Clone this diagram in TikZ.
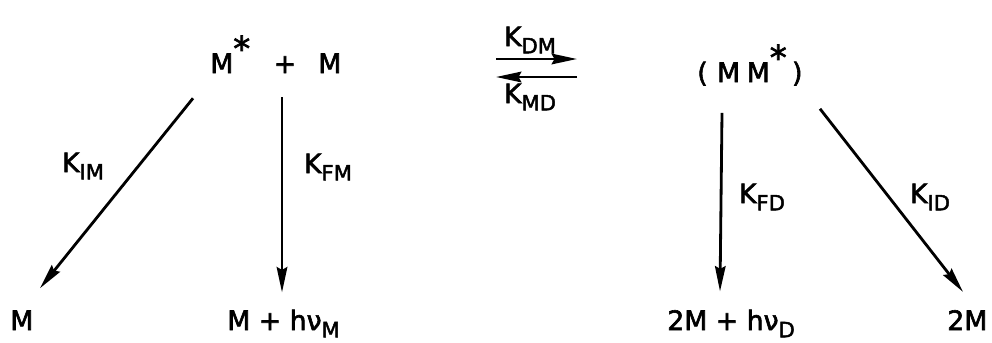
\documentclass[tikz,border=0pt]{standalone}
\usepackage{fontspec}
\setmainfont{DejaVu Sans}[FakeBold=2.2, AutoFakeBold=2.2]
\usepackage{tikz}
\usetikzlibrary{arrows.meta, calc}
\newcommand{\chemsize}{\fontsize{19}{23}\bfseries\selectfont}
\newcommand{\lowsub}[1]{\raisebox{-0.5ex}{\fontsize{15}{18}\selectfont #1}}
\newcommand{\starsup}{\raisebox{0.85ex}{\fontsize{24}{26}\selectfont *}}

\begin{document}
\begin{tikzpicture}[
  x=0.025cm, y=-0.025cm,
  species/.style={inner sep=0pt, font=\chemsize, anchor=base west},
  rate/.style={inner sep=0pt, font=\chemsize},
  arr/.style={-{Stealth[length=18pt, width=7.5pt, inset=2pt]}, line width=2pt}
]
  \useasboundingbox (0,0) rectangle (992,342);

  % excited monomer and ground-state monomer
  \node[species] (mstar) at (210,73) {M\starsup};
  \node[species, anchor=base] (plus1) at (285,73) {+};
  \node[species] (mone) at (318,73) {M};

  % excimer
  \node[species] (dimer) at (697,82) {(\hspace{0.35em}M\hspace{0.25em}M\starsup\hspace{0.2em})};

  % products
  \node[species] (mfree) at (10,330) {M};
  \node[species] (mhv) at (227,330) {M + hν\lowsub{M}};
  \node[species] (dd) at (667,330) {2M + hν\lowsub{D}};
  \node[species] (twom) at (947,330) {2M};

  % rate constants
  \node[rate] (kim) at (83,166) {K\lowsub{IM}};
  \node[rate] (kfm) at (328,167) {K\lowsub{FM}};
  \node[rate] (kdm) at (530,40) {K\lowsub{DM}};
  \node[rate] (kmd) at (530,97) {K\lowsub{MD}};
  \node[rate] (kfd) at (762,197) {K\lowsub{FD}};
  \node[rate] (kid) at (930,197) {K\lowsub{ID}};

  \coordinate (eqL) at (496,68);
  \coordinate (eqR) at (577,68);

  \draw[arr] ($(eqL)+(0,-9)$) -- ($(eqR)+(0,-9)$);
  \draw[arr] ($(eqR)+(0,9)$) -- ($(eqL)+(0,9)$);

  \draw[arr] ($(mstar.south west)+(-17,25)$) -- ($(mfree.north west)+(30,-22)$);
  \draw[arr] ($(plus1.south)+(-3,24)$) -- ($(mhv.north west)+(55,-17)$);
  \draw[arr] ($(dimer.south west)+(25,27)$) -- ($(dd.north west)+(53,-18)$);
  \draw[arr] ($(dimer.south west)+(123,23)$) -- ($(twom.north west)+(16,-18)$);

\end{tikzpicture}
\end{document}
